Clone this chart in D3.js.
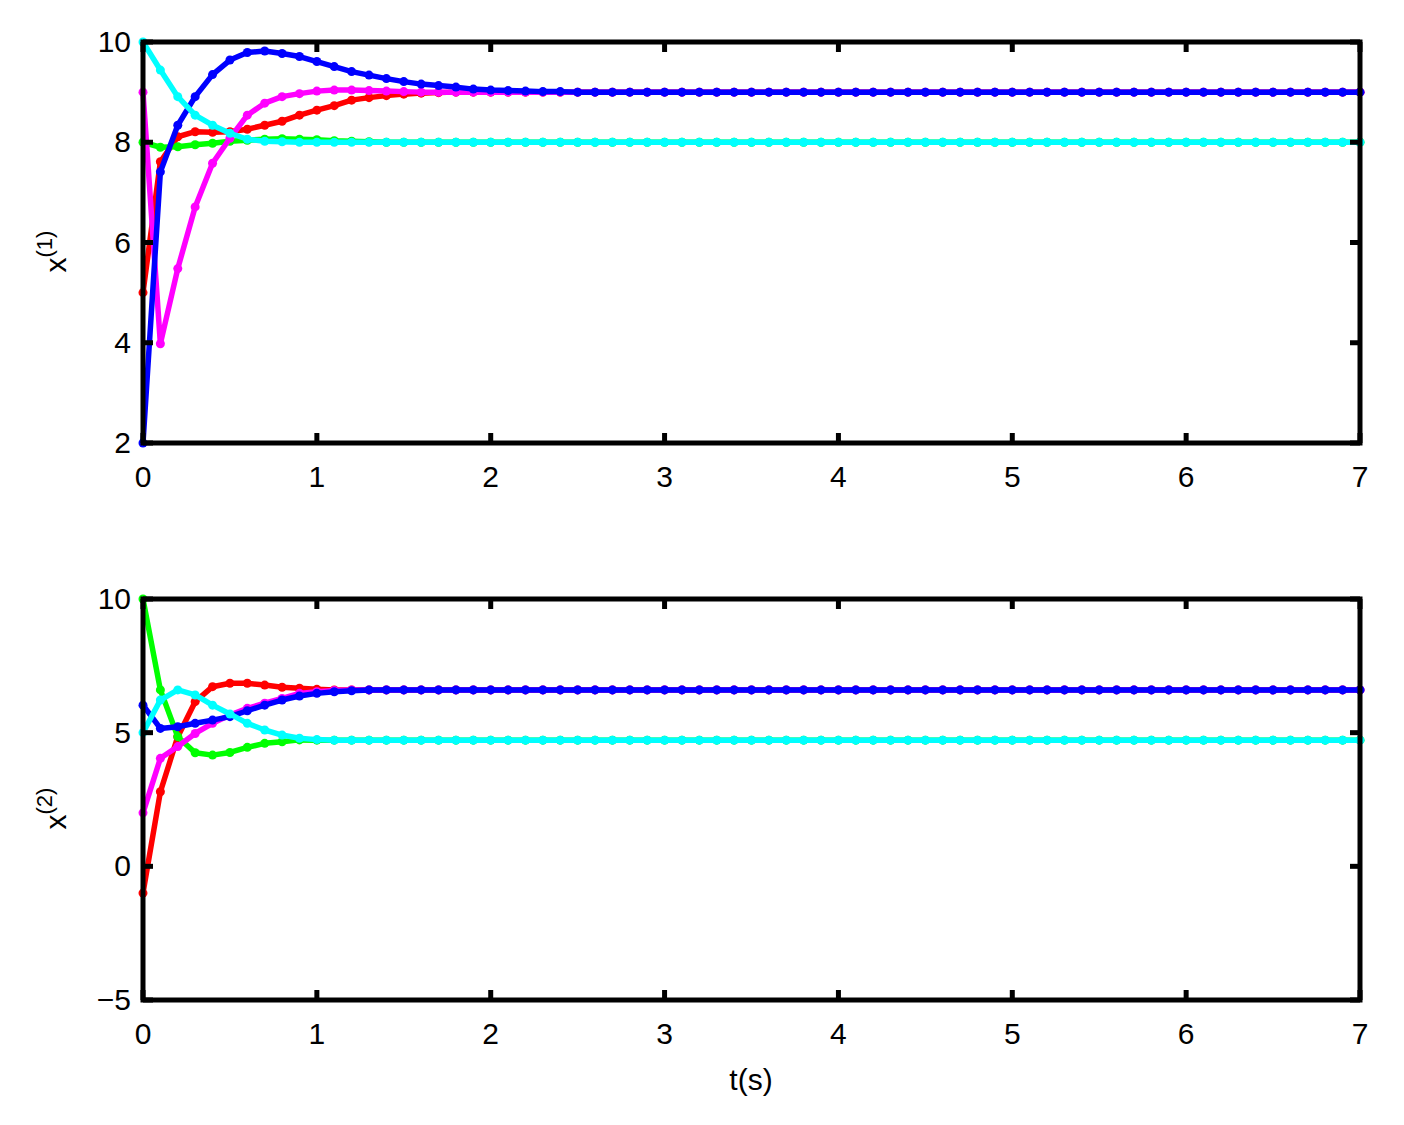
<!DOCTYPE html>
<html>
<head>
<meta charset="utf-8">
<script src="https://cdn.jsdelivr.net/npm/d3@7"></script>
<style>
  body { margin: 0; background: #fff; }
  text { font-family: "Liberation Sans", Arial, sans-serif; }
</style>
</head>
<body>
<svg id="chart"></svg>
<script>
// time samples 0..7 step 0.1
const t = [
  0,0.1,0.2,0.3,0.4,0.5,0.6,0.7,0.8,0.9,
  1,1.1,1.2,1.3,1.4,1.5,1.6,1.7,1.8,1.9,
  2,2.1,2.2,2.3,2.4,2.5,2.6,2.7,2.8,2.9,
  3,3.1,3.2,3.3,3.4,3.5,3.6,3.7,3.8,3.9,
  4,4.1,4.2,4.3,4.4,4.5,4.6,4.7,4.8,4.9,
  5,5.1,5.2,5.3,5.4,5.5,5.6,5.7,5.8,5.9,
  6,6.1,6.2,6.3,6.4,6.5,6.6,6.7,6.8,6.9,
  7
];

// panel 1: x^(1)
const red1 = [
  5,7.61,8.11,8.21,8.2,8.21,8.26,8.34,8.42,8.54,
  8.64,8.73,8.84,8.89,8.93,8.96,8.98,8.99,9,9,
  9,9,9,9,9,9,9,9,9,9,
  9,9,9,9,9,9,9,9,9,9,
  9,9,9,9,9,9,9,9,9,9,
  9,9,9,9,9,9,9,9,9,9,
  9,9,9,9,9,9,9,9,9,9,
  9
];
const green1 = [
  8,7.9,7.91,7.95,7.98,8.02,8.04,8.06,8.07,8.06,
  8.05,8.03,8.02,8.01,8,8,8,8,8,8,
  8,8,8,8,8,8,8,8,8,8,
  8,8,8,8,8,8,8,8,8,8,
  8,8,8,8,8,8,8,8,8,8,
  8,8,8,8,8,8,8,8,8,8,
  8,8,8,8,8,8,8,8,8,8,
  8
];
const magenta1 = [
  9,3.98,5.48,6.71,7.58,8.08,8.54,8.78,8.91,8.97,
  9.02,9.04,9.04,9.03,9.02,9.01,9,9,9,9,
  9,9,9,9,9,9,9,9,9,9,
  9,9,9,9,9,9,9,9,9,9,
  9,9,9,9,9,9,9,9,9,9,
  9,9,9,9,9,9,9,9,9,9,
  9,9,9,9,9,9,9,9,9,9,
  9
];
const blue1 = [
  2,7.41,8.34,8.91,9.35,9.64,9.79,9.82,9.77,9.71,
  9.61,9.51,9.41,9.34,9.27,9.21,9.16,9.13,9.1,9.06,
  9.04,9.03,9.02,9.01,9.01,9,9,9,9,9,
  9,9,9,9,9,9,9,9,9,9,
  9,9,9,9,9,9,9,9,9,9,
  9,9,9,9,9,9,9,9,9,9,
  9,9,9,9,9,9,9,9,9,9,
  9
];
const cyan1 = [
  10,9.44,8.91,8.54,8.34,8.18,8.06,8.02,8.01,8,
  8,8,8,8,8,8,8,8,8,8,
  8,8,8,8,8,8,8,8,8,8,
  8,8,8,8,8,8,8,8,8,8,
  8,8,8,8,8,8,8,8,8,8,
  8,8,8,8,8,8,8,8,8,8,
  8,8,8,8,8,8,8,8,8,8,
  8
];

// panel 2: x^(2)
const red2 = [
  -1,2.79,4.85,6.16,6.72,6.85,6.85,6.78,6.7,6.66,
  6.62,6.6,6.6,6.6,6.6,6.6,6.6,6.6,6.6,6.6,
  6.6,6.6,6.6,6.6,6.6,6.6,6.6,6.6,6.6,6.6,
  6.6,6.6,6.6,6.6,6.6,6.6,6.6,6.6,6.6,6.6,
  6.6,6.6,6.6,6.6,6.6,6.6,6.6,6.6,6.6,6.6,
  6.6,6.6,6.6,6.6,6.6,6.6,6.6,6.6,6.6,6.6,
  6.6,6.6,6.6,6.6,6.6,6.6,6.6,6.6,6.6,6.6,
  6.6
];
const green2 = [
  10,6.6,4.85,4.25,4.16,4.26,4.45,4.6,4.66,4.73,
  4.72,4.72,4.72,4.72,4.72,4.72,4.72,4.72,4.72,4.72,
  4.72,4.72,4.72,4.72,4.72,4.72,4.72,4.72,4.72,4.72,
  4.72,4.72,4.72,4.72,4.72,4.72,4.72,4.72,4.72,4.72,
  4.72,4.72,4.72,4.72,4.72,4.72,4.72,4.72,4.72,4.72,
  4.72,4.72,4.72,4.72,4.72,4.72,4.72,4.72,4.72,4.72,
  4.72,4.72,4.72,4.72,4.72,4.72,4.72,4.72,4.72,4.72,
  4.72
];
const magenta2 = [
  2,4.04,4.48,4.97,5.35,5.66,5.91,6.1,6.28,6.47,
  6.53,6.58,6.6,6.6,6.6,6.6,6.6,6.6,6.6,6.6,
  6.6,6.6,6.6,6.6,6.6,6.6,6.6,6.6,6.6,6.6,
  6.6,6.6,6.6,6.6,6.6,6.6,6.6,6.6,6.6,6.6,
  6.6,6.6,6.6,6.6,6.6,6.6,6.6,6.6,6.6,6.6,
  6.6,6.6,6.6,6.6,6.6,6.6,6.6,6.6,6.6,6.6,
  6.6,6.6,6.6,6.6,6.6,6.6,6.6,6.6,6.6,6.6,
  6.6
];
const blue2 = [
  6.03,5.16,5.22,5.35,5.47,5.6,5.82,6.03,6.22,6.37,
  6.47,6.53,6.57,6.6,6.6,6.6,6.6,6.6,6.6,6.6,
  6.6,6.6,6.6,6.6,6.6,6.6,6.6,6.6,6.6,6.6,
  6.6,6.6,6.6,6.6,6.6,6.6,6.6,6.6,6.6,6.6,
  6.6,6.6,6.6,6.6,6.6,6.6,6.6,6.6,6.6,6.6,
  6.6,6.6,6.6,6.6,6.6,6.6,6.6,6.6,6.6,6.6,
  6.6,6.6,6.6,6.6,6.6,6.6,6.6,6.6,6.6,6.6,
  6.6
];
const cyan2 = [
  5,6.22,6.6,6.41,6.03,5.7,5.35,5.1,4.91,4.79,
  4.74,4.72,4.72,4.72,4.72,4.72,4.72,4.72,4.72,4.72,
  4.72,4.72,4.72,4.72,4.72,4.72,4.72,4.72,4.72,4.72,
  4.72,4.72,4.72,4.72,4.72,4.72,4.72,4.72,4.72,4.72,
  4.72,4.72,4.72,4.72,4.72,4.72,4.72,4.72,4.72,4.72,
  4.72,4.72,4.72,4.72,4.72,4.72,4.72,4.72,4.72,4.72,
  4.72,4.72,4.72,4.72,4.72,4.72,4.72,4.72,4.72,4.72,
  4.72
];

const xTicks = [0, 1, 2, 3, 4, 5, 6, 7];
const yTicks1 = [2, 4, 6, 8, 10];
const yTicks2 = [-5, 0, 5, 10];
const colors = ["#ff0000", "#00ff00", "#ff00ff", "#0000ff", "#00ffff"];

const width = 1404, height = 1125;
const svg = d3.select("#chart").attr("width", width).attr("height", height);

const x = d3.scaleLinear().domain([0, 7]).range([143, 1360]);

function panel(top, bottom, yDomain, yTicks, series, sup) {
  const y = d3.scaleLinear().domain(yDomain).range([bottom, top]);
  const g = svg.append("g");

  const line = d3.line().x((d, i) => x(t[i])).y(d => y(d));
  series.forEach((s, k) => {
    g.append("path").datum(s)
      .attr("fill", "none").attr("stroke", colors[k])
      .attr("stroke-width", 5.5).attr("stroke-linejoin", "round")
      .attr("d", line);
    g.selectAll(null).data(s).enter().append("circle")
      .attr("cx", (d, i) => x(t[i])).attr("cy", d => y(d))
      .attr("r", 4.5).attr("fill", colors[k]);
  });

  // inward ticks on all sides
  const tl = 10;
  xTicks.forEach(v => {
    g.append("line").attr("x1", x(v)).attr("x2", x(v)).attr("y1", bottom).attr("y2", bottom - tl)
      .attr("stroke", "#000").attr("stroke-width", 5);
    g.append("line").attr("x1", x(v)).attr("x2", x(v)).attr("y1", top).attr("y2", top + tl)
      .attr("stroke", "#000").attr("stroke-width", 5);
    g.append("text").attr("x", x(v)).attr("y", bottom + 44)
      .attr("text-anchor", "middle").attr("font-size", 30).text(v);
  });
  yTicks.forEach(v => {
    g.append("line").attr("x1", 143).attr("x2", 143 + tl).attr("y1", y(v)).attr("y2", y(v))
      .attr("stroke", "#000").attr("stroke-width", 5);
    g.append("line").attr("x1", 1360).attr("x2", 1360 - tl).attr("y1", y(v)).attr("y2", y(v))
      .attr("stroke", "#000").attr("stroke-width", 5);
    g.append("text").attr("x", 131).attr("y", y(v) + 10)
      .attr("text-anchor", "end").attr("font-size", 30)
      .text(v < 0 ? "\u2212" + Math.abs(v) : v);
  });

  g.append("rect").attr("x", 143).attr("y", top).attr("width", 1360 - 143).attr("height", bottom - top)
    .attr("fill", "none").attr("stroke", "#000").attr("stroke-width", 5);

  const lab = g.append("text")
    .attr("transform", `translate(66,${(top + bottom) / 2 + 30}) rotate(-90)`)
    .attr("font-size", 30);
  lab.append("tspan").text("x");
  lab.append("tspan").attr("dy", -14).attr("font-size", 22).text(`(${sup})`);
}

panel(42, 443, [2, 10], yTicks1, [red1, green1, magenta1, blue1, cyan1], 1);
panel(599, 1000, [-5, 10], yTicks2, [red2, green2, magenta2, blue2, cyan2], 2);

svg.append("text").attr("x", 751).attr("y", 1090).attr("text-anchor", "middle")
  .attr("font-size", 30).text("t(s)");
</script>
</body>
</html>
